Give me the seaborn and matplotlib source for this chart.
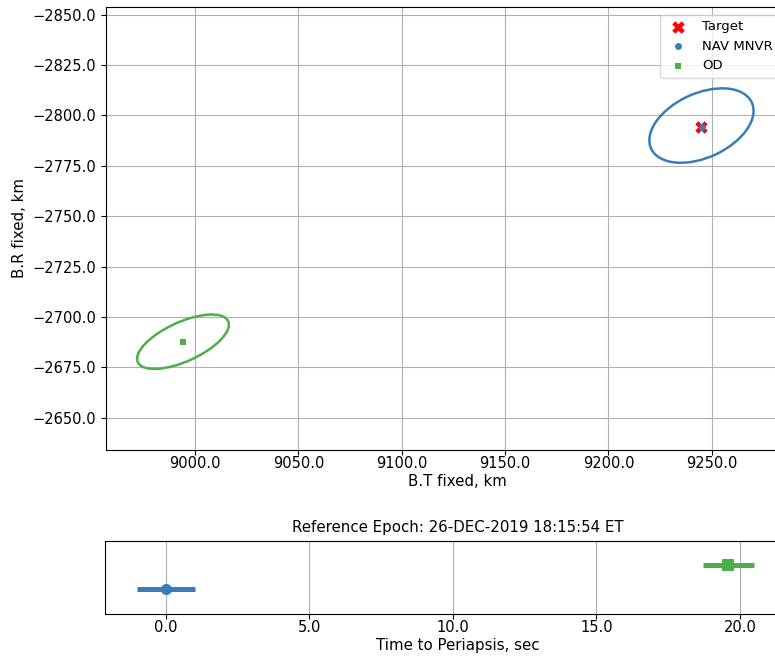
import matplotlib
matplotlib.use("Agg")
import matplotlib.pyplot as plt
from matplotlib.patches import Ellipse
from matplotlib.ticker import FuncFormatter, MultipleLocator
import seaborn as sns
import pandas as pd

# B-plane solutions (km)
sol_labels = ["Target", "NAV MNVR", "OD"]
sol_bt = [9245.0, 9245.2, 8994.2]
sol_br = [-2794.4, -2794.5, -2687.7]
sol_markers = ["X", "o", "s"]
sol_sizes = [9.0, 5.0, 5.0]

# Dispersion ellipses (semi-axes in km, orientation in deg)
ell_labels = ["NAV MNVR", "OD"]
ell_bt = [9245.0, 8994.2]
ell_br = [-2795.0, -2687.7]
ell_semi_major = [26.9, 24.1]
ell_semi_minor = [15.9, 9.7]
ell_angle = [-25.7, -25.2]

# Time to periapsis (sec) with spread
tp_labels = ["NAV MNVR", "OD"]
tp_row = [0, 1]
tp_sec = [0.0, 19.6]
tp_sigma = [1.0, 0.9]
tp_markers = ["o", "s"]

colors = {"Target": "red", "NAV MNVR": "#377eb8", "OD": "#4daf4a"}

one_decimal = FuncFormatter(lambda v, pos: f"{v:.1f}".replace("-", "\u2212"))

W, H = 775, 658
fig = plt.figure(figsize=(W / 100, H / 100), dpi=100)
ax = fig.add_axes([105.7 / W, 1 - 449.5 / H, (810 - 105.7) / W, (449.5 - 7.3) / H])
ax2 = fig.add_axes([105.3 / W, 1 - 613.5 / H, (810 - 105.3) / W, 73 / H])

# --- B-plane panel ---
for lab, cx, cy, a, b, ang in zip(ell_labels, ell_bt, ell_br,
                                  ell_semi_major, ell_semi_minor, ell_angle):
    ax.add_patch(Ellipse((cx, cy), 2 * a, 2 * b, angle=ang, fill=False,
                         edgecolor=colors[lab], lw=1.8, zorder=3))

sol = pd.DataFrame({"label": sol_labels, "bt": sol_bt, "br": sol_br})
for lab, mk, ms in zip(sol_labels, sol_markers, sol_sizes):
    sub = sol[sol["label"] == lab]
    sns.scatterplot(data=sub, x="bt", y="br", marker=mk, s=ms ** 2,
                    color=colors[lab], linewidth=0, label=lab, ax=ax, zorder=4)

ax.set_xlim(8956.8, 9297.5)
ax.set_ylim(-2634.2, -2853.7)
ax.xaxis.set_major_locator(MultipleLocator(50))
ax.yaxis.set_major_locator(MultipleLocator(25))
ax.xaxis.set_major_formatter(one_decimal)
ax.yaxis.set_major_formatter(one_decimal)
ax.grid(True, color="#b0b0b0", lw=0.8)
ax.set_axisbelow(True)
ax.tick_params(labelsize=10.5)
ax.tick_params(axis="x", pad=1.5)
ax.set_xlabel("B.T fixed, km", fontsize=10.8, labelpad=2)
ax.set_ylabel("B.R fixed, km", fontsize=10.8)
ax.legend(loc="upper left", bbox_to_anchor=(660 / W, 1 - 15 / H),
          bbox_transform=fig.transFigure, fontsize=9.5, borderaxespad=0)

# --- Time to periapsis panel ---
tp = pd.DataFrame({"label": tp_labels, "row": tp_row, "t": tp_sec, "sig": tp_sigma})
for lab, mk in zip(tp_labels, tp_markers):
    sub = tp[tp["label"] == lab]
    ax2.errorbar(sub["t"], sub["row"], xerr=sub["sig"], fmt="none",
                 ecolor=colors[lab], elinewidth=3.6, capsize=0, zorder=3)
    sns.scatterplot(data=sub, x="t", y="row", marker=mk, s=8.0 ** 2,
                    color=colors[lab], linewidth=0, ax=ax2, zorder=4, legend=False)

ax2.set_xlim(-2.11, 22.44)
ax2.set_ylim(-1, 2)
ax2.set_yticks([])
ax2.set_ylabel("")
ax2.xaxis.set_major_locator(MultipleLocator(5))
ax2.xaxis.set_major_formatter(one_decimal)
ax2.grid(True, axis="x", color="#b0b0b0", lw=0.8)
ax2.set_axisbelow(True)
ax2.tick_params(labelsize=10.5)
ax2.tick_params(axis="x", pad=1.5)
ax2.set_xlabel("Time to Periapsis, sec", fontsize=10.8, labelpad=2)
ax2.set_title("Reference Epoch: 26-DEC-2019 18:15:54 ET", fontsize=10.8)

fig.savefig("out.png", dpi=100)
